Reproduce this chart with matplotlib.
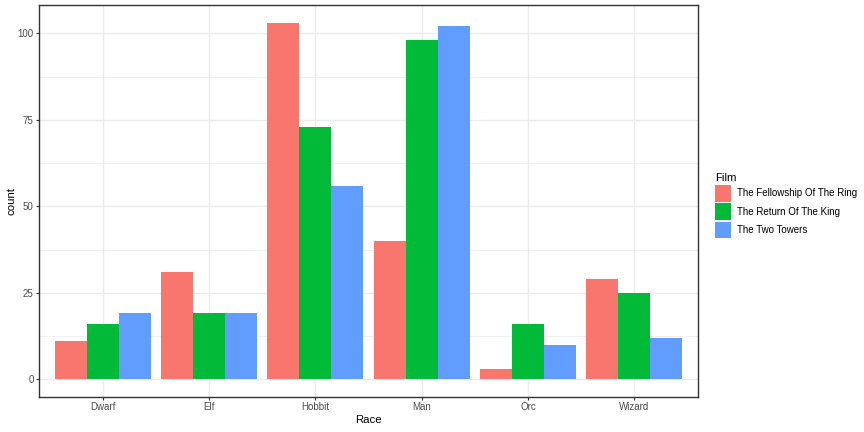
import numpy as np
import matplotlib.pyplot as plt
from matplotlib.patches import Patch
from matplotlib.ticker import MultipleLocator

plt.rcParams['font.family'] = ['Liberation Sans', 'DejaVu Sans']

races = ['Dwarf', 'Elf', 'Hobbit', 'Man', 'Orc', 'Wizard']
films = ['The Fellowship Of The Ring', 'The Return Of The King', 'The Two Towers']
fellowship = [11, 31, 103, 40, 3, 29]
return_king = [16, 19, 73, 98, 16, 25]
two_towers = [19, 19, 56, 102, 10, 12]
colors = ['#F8766D', '#00BA38', '#619CFF']

fig = plt.figure(figsize=(8.64, 4.32), dpi=100)
ax = fig.add_axes([0.045, 0.081, 0.763, 0.907])

x = np.arange(1, len(races) + 1)
w = 0.3
for i, (vals, c) in enumerate(zip([fellowship, return_king, two_towers], colors)):
    ax.bar(x + (i - 1) * w, vals, width=w, color=c, zorder=3, linewidth=0)

ax.set_xlim(0.4, 6.6)
ax.set_ylim(-5.15, 108.15)
ax.set_xticks(x)
ax.set_xticklabels(races)
ax.yaxis.set_major_locator(MultipleLocator(25))
ax.yaxis.set_minor_locator(MultipleLocator(12.5))
ax.grid(which='major', color='#EBEBEB', linewidth=1.0, zorder=0)
ax.grid(which='minor', axis='y', color='#EBEBEB', linewidth=0.5, zorder=0)
ax.tick_params(which='minor', length=0)
ax.tick_params(which='major', length=2, width=0.8, color='#333333',
               labelsize=7, labelcolor='#4D4D4D', pad=1.8)
for s in ax.spines.values():
    s.set_color('#333333')
    s.set_linewidth(1.0)

ax.set_xlabel('Race', fontsize=8.2, labelpad=2)
ax.set_ylabel('count', fontsize=8.2, labelpad=1)

handles = [Patch(facecolor=c, edgecolor='none') for c in colors]
leg = fig.legend(handles, films, title='Film', loc='center left',
                 bbox_to_anchor=(0.823, 0.524), frameon=False, fontsize=7,
                 title_fontsize=8.2, handlelength=1.65, handleheight=2.2,
                 handletextpad=0.6, labelspacing=0.2, borderaxespad=0)
leg._legend_box.align = 'left'

fig.savefig('out.png', dpi=100)
